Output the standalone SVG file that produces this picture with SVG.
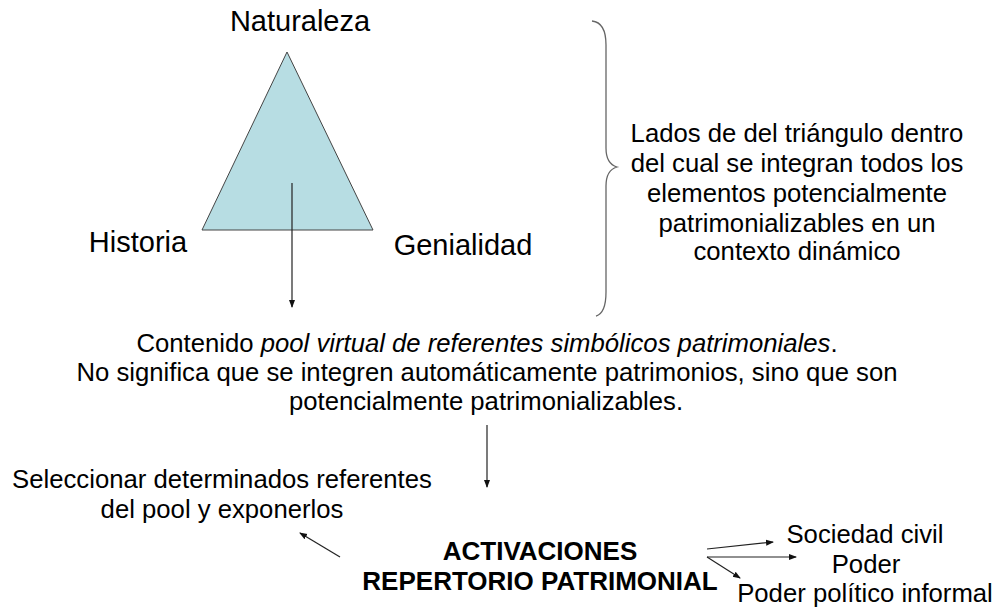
<svg xmlns="http://www.w3.org/2000/svg" width="999" height="608" viewBox="0 0 999 608">
<defs>
<marker id="ah" markerWidth="8" markerHeight="8" refX="7" refY="4" orient="auto" markerUnits="userSpaceOnUse">
<path d="M0,1 L8,4 L0,7 z" fill="#111"/>
</marker>
</defs>
<style>
text{font-family:"Liberation Sans",Arial,sans-serif;font-size:25.7px;fill:#000}
.c{text-anchor:middle}
.b{font-weight:bold;font-size:26px}
.t{font-size:29px}
.ln{stroke:#222;stroke-width:1.2;fill:none}
</style>
<rect width="999" height="608" fill="#fff"/>
<g id="triangle">
<polygon points="287,52 202,230 373,230" fill="#b7dde3" stroke="#444" stroke-width="1"/>
</g>
<g id="naturaleza"><text class="c t" x="300" y="31">Naturaleza</text></g>
<g id="historia"><text class="c t" x="138" y="252">Historia</text></g>
<g id="genialidad"><text class="c t" x="463" y="255">Genialidad</text></g>
<g id="brace">
<path d="M592,21 C602,22 606,30 606,45 L606,148 C606,160 610,165 617,167 C610,169 606,174 606,186 L606,292 C606,306 603,314 596,316" fill="none" stroke="#666" stroke-width="1.3"/>
</g>
<g id="lados">
<text class="c" x="797" y="142">Lados de del triángulo dentro</text>
<text class="c" x="797" y="172">del cual se integran todos los</text>
<text class="c" x="797" y="202">elementos potencialmente</text>
<text class="c" x="797" y="232">patrimonializables en un</text>
<text class="c" x="797" y="260">contexto dinámico</text>
</g>
<g id="contenido">
<text class="c" x="487" y="352">Contenido <tspan font-style="italic">pool virtual de referentes simbólicos patrimoniales</tspan>.</text>
<text class="c" x="487" y="381">No significa que se integren automáticamente patrimonios, sino que son</text>
<text class="c" x="486" y="410">potencialmente patrimonializables.</text>
</g>
<g id="seleccionar">
<text class="c" x="222" y="488">Seleccionar determinados referentes</text>
<text class="c" x="222" y="518">del pool y exponerlos</text>
</g>
<g id="activaciones">
<text class="c b" x="540" y="560">ACTIVACIONES</text>
<text class="c b" x="540" y="590">REPERTORIO PATRIMONIAL</text>
</g>
<g id="sociedad"><text class="c" x="865" y="543">Sociedad civil</text></g>
<g id="poder"><text class="c" x="866" y="573">Poder</text></g>
<g id="informal"><text class="c" x="865" y="602">Poder político informal</text></g>
<g id="connectors">
<line class="ln" x1="292" y1="183" x2="292" y2="307" marker-end="url(#ah)"/>
<line class="ln" x1="487" y1="425" x2="487" y2="487" marker-end="url(#ah)"/>
<line class="ln" x1="340" y1="557" x2="300" y2="533" marker-end="url(#ah)"/>
<line class="ln" x1="707" y1="549" x2="773" y2="542" marker-end="url(#ah)"/>
<line class="ln" x1="707" y1="557" x2="796" y2="557" marker-end="url(#ah)"/>
<line class="ln" x1="707" y1="557" x2="740" y2="578" marker-end="url(#ah)"/>
</g>
</svg>
